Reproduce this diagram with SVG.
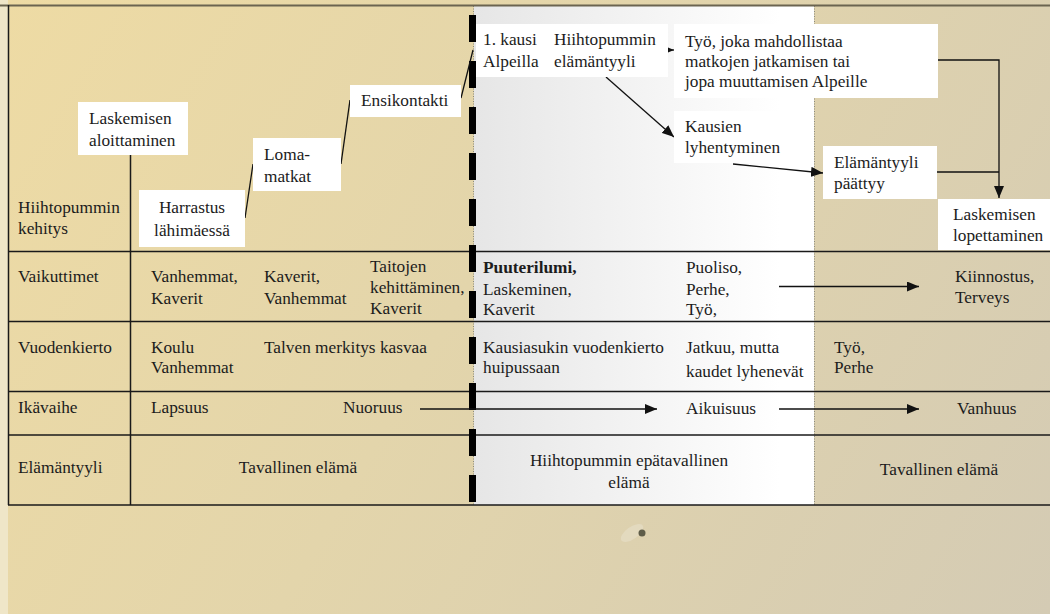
<svg xmlns="http://www.w3.org/2000/svg" width="1050" height="614" viewBox="0 0 1050 614">
<style>
.t{font-family:"Liberation Serif","DejaVu Serif",serif;font-size:17.3px;fill:#1c1c1c}
.b{font-weight:bold}
.box{fill:#ffffff;stroke:none}
.grid{stroke:#1a1a1a;stroke-width:1.5;fill:none}
.con{stroke:#111;stroke-width:1.3;fill:none}
.arr{stroke:#111;stroke-width:1.3;fill:none;marker-end:url(#ah)}
.dot{stroke:#8a8a80;stroke-width:1;stroke-dasharray:1 1.5;fill:none}
</style>
<defs>
<linearGradient id="bg" x1="0" y1="0" x2="1050" y2="614" gradientUnits="userSpaceOnUse">
<stop offset="0" stop-color="#eedba4"/>
<stop offset="0.45" stop-color="#e3d5ab"/>
<stop offset="1" stop-color="#d4cbb4"/>
</linearGradient>
<linearGradient id="mid" x1="474" y1="0" x2="814" y2="0" gradientUnits="userSpaceOnUse">
<stop offset="0" stop-color="#e6e6e6"/>
<stop offset="0.9" stop-color="#ffffff"/>
<stop offset="1" stop-color="#ffffff"/>
</linearGradient>
<marker id="ah" markerUnits="userSpaceOnUse" markerWidth="12" markerHeight="10" refX="12" refY="5" orient="auto">
<path d="M0,0 L12,5 L0,10 z" fill="#111"/>
</marker>
</defs>

<g id="background">
<rect x="0" y="0" width="1050" height="614" fill="url(#bg)"/>
<rect x="0" y="0" width="8" height="614" fill="#efe6c8"/>
<rect x="474" y="6" width="340" height="499" fill="url(#mid)"/>
<line class="dot" x1="473.5" y1="6" x2="473.5" y2="505"/>
<line class="dot" x1="814.5" y1="6" x2="814.5" y2="505"/>
<ellipse cx="632" cy="533" rx="13" ry="6" fill="#ece5d2" opacity="0.45" transform="rotate(-35 632 533)"/>
<circle cx="642" cy="533" r="3.5" fill="#5e5c48"/>
</g>

<g id="table">
<line x1="0" y1="5.5" x2="1050" y2="5.5" stroke="#6b6450" stroke-width="2"/>
<line class="grid" x1="8.5" y1="5" x2="8.5" y2="505"/>
<line class="grid" x1="8" y1="251.5" x2="1050" y2="251.5"/>
<line class="grid" x1="8" y1="321.5" x2="1050" y2="321.5"/>
<line class="grid" x1="8" y1="391.5" x2="1050" y2="391.5"/>
<line class="grid" x1="8" y1="435" x2="1050" y2="435"/>
<line class="grid" x1="8" y1="505" x2="1050" y2="505"/>
<line class="grid" x1="130.5" y1="155" x2="130.5" y2="505"/>
<line x1="472.5" y1="15" x2="472.5" y2="502" stroke="#000" stroke-width="7" stroke-dasharray="27 19"/>
</g>

<g id="row-labels">
<text class="t" x="18" y="213">Hiihtopummin</text>
<text class="t" x="18" y="234">kehitys</text>
<text class="t" x="18" y="282">Vaikuttimet</text>
<text class="t" x="18" y="353">Vuodenkierto</text>
<text class="t" x="18" y="413">Ikävaihe</text>
<text class="t" x="18" y="473">Elämäntyyli</text>
</g>

<g id="connectors">
<line class="con" x1="245" y1="218" x2="253" y2="164"/>
<line class="con" x1="341" y1="164" x2="350" y2="100"/>
<line class="con" x1="461" y1="98" x2="473" y2="50"/>
<line class="arr" x1="656" y1="50" x2="674" y2="50"/>
<line class="arr" x1="606" y1="77" x2="674" y2="137"/>
<line class="arr" x1="733" y1="164" x2="823" y2="173"/>
<polyline class="arr" points="938,60 999,60 999,198"/>
<line class="con" x1="937" y1="172" x2="999" y2="172"/>
<line class="arr" x1="779" y1="286.5" x2="919" y2="286.5"/>
<line class="arr" x1="420" y1="409" x2="657" y2="409"/>
<line class="arr" x1="779" y1="409" x2="919" y2="409"/>
</g>

<g id="n-laskemisen-aloittaminen">
<rect class="box" x="78" y="102" width="110" height="53"/>
<text class="t" x="89" y="124">Laskemisen</text>
<text class="t" x="89" y="146">aloittaminen</text>
</g>
<g id="n-harrastus">
<rect class="box" x="139" y="190" width="106" height="57"/>
<text class="t" x="192" y="213" text-anchor="middle">Harrastus</text>
<text class="t" x="192" y="236" text-anchor="middle">lähimäessä</text>
</g>
<g id="n-lomamatkat">
<rect class="box" x="253" y="138" width="88" height="53"/>
<text class="t" x="264" y="160">Loma-</text>
<text class="t" x="264" y="182">matkat</text>
</g>
<g id="n-ensikontakti">
<rect class="box" x="350" y="85" width="111" height="32"/>
<text class="t" x="361" y="106">Ensikontakti</text>
</g>
<g id="n-ensimmainen-kausi">
<rect class="box" x="476" y="24" width="192" height="53"/>
<text class="t" x="483" y="45">1. kausi</text>
<text class="t" x="483" y="67">Alpeilla</text>
<text class="t" x="554" y="45">Hiihtopummin</text>
<text class="t" x="554" y="67">elämäntyyli</text>
</g>
<g id="n-tyo">
<rect class="box" x="674" y="24" width="264" height="74"/>
<text class="t" x="685" y="47">Työ, joka mahdollistaa</text>
<text class="t" x="685" y="67">matkojen jatkamisen tai</text>
<text class="t" x="685" y="87">jopa muuttamisen Alpeille</text>
</g>
<g id="n-kausien-lyhentyminen">
<rect class="box" x="674" y="111" width="119" height="52"/>
<text class="t" x="685" y="132">Kausien</text>
<text class="t" x="685" y="153">lyhentyminen</text>
</g>
<g id="n-elamantyyli-paattyy">
<rect class="box" x="823" y="146" width="114" height="53"/>
<text class="t" x="834" y="168">Elämäntyyli</text>
<text class="t" x="834" y="189">päättyy</text>
</g>
<g id="n-laskemisen-lopettaminen">
<rect class="box" x="938" y="199" width="112" height="51"/>
<text class="t" x="953" y="220">Laskemisen</text>
<text class="t" x="953" y="241">lopettaminen</text>
</g>

<g id="row-vaikuttimet">
<text class="t" x="151" y="282">Vanhemmat,</text>
<text class="t" x="151" y="304">Kaverit</text>
<text class="t" x="264" y="282">Kaverit,</text>
<text class="t" x="264" y="304">Vanhemmat</text>
<text class="t" x="370" y="272">Taitojen</text>
<text class="t" x="370" y="293">kehittäminen,</text>
<text class="t" x="370" y="314">Kaverit</text>
<text class="t b" x="483" y="273">Puuterilumi,</text>
<text class="t" x="483" y="295">Laskeminen,</text>
<text class="t" x="483" y="315">Kaverit</text>
<text class="t" x="686" y="273">Puoliso,</text>
<text class="t" x="686" y="295">Perhe,</text>
<text class="t" x="686" y="315">Työ,</text>
<text class="t" x="955" y="282">Kiinnostus,</text>
<text class="t" x="955" y="303">Terveys</text>
</g>

<g id="row-vuodenkierto">
<text class="t" x="151" y="353">Koulu</text>
<text class="t" x="151" y="373">Vanhemmat</text>
<text class="t" x="264" y="353">Talven merkitys kasvaa</text>
<text class="t" x="483" y="353">Kausiasukin vuodenkierto</text>
<text class="t" x="483" y="373">huipussaan</text>
<text class="t" x="686" y="353">Jatkuu, mutta</text>
<text class="t" x="686" y="377">kaudet lyhenevät</text>
<text class="t" x="834" y="353">Työ,</text>
<text class="t" x="834" y="373">Perhe</text>
</g>

<g id="row-ikavaihe">
<text class="t" x="151" y="413">Lapsuus</text>
<text class="t" x="343" y="413">Nuoruus</text>
<text class="t" x="686" y="414">Aikuisuus</text>
<text class="t" x="957" y="414">Vanhuus</text>
</g>

<g id="row-elamantyyli">
<text class="t" x="298" y="473" text-anchor="middle">Tavallinen elämä</text>
<text class="t" x="629" y="466" text-anchor="middle">Hiihtopummin epätavallinen</text>
<text class="t" x="629" y="488" text-anchor="middle">elämä</text>
<text class="t" x="939" y="475" text-anchor="middle">Tavallinen elämä</text>
</g>
</svg>
